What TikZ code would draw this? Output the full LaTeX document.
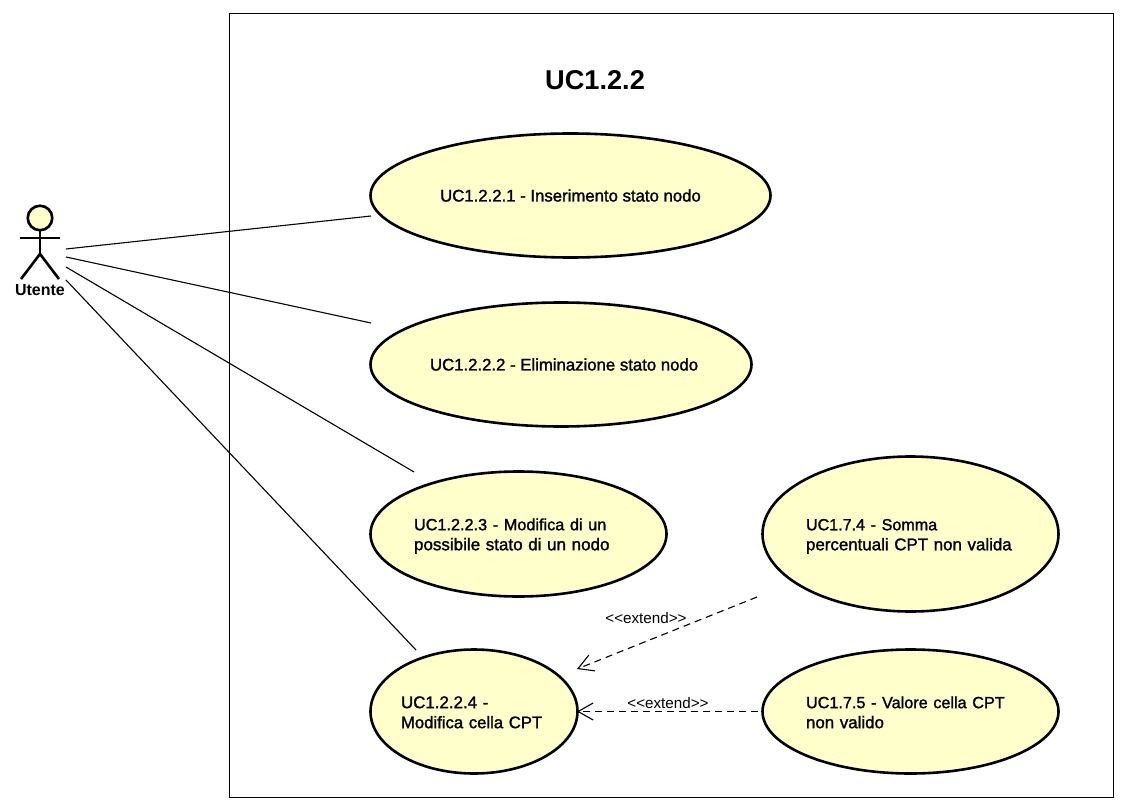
\documentclass[tikz,border=0pt]{standalone}
\usepackage{fontspec}
\setmainfont{Liberation Sans}
\newfontfamily\ucfont[FakeBold=1.5]{Liberation Sans}
\usetikzlibrary{shapes.geometric,arrows.meta}
\definecolor{ucfill}{HTML}{FFFFCC}
\newcommand\toppad[1]{\rule{0pt}{#1}}
\newcommand\ucsize[2]{{\fontsize{#1}{20}\selectfont #2}}
\tikzset{
  x=1pt,y=-1pt,
  usecase/.style={ellipse,draw=black,line width=2.6pt,fill=ucfill,inner sep=0pt,outer sep=0pt,align=left,font=\fontsize{16.9}{20}\ucfont},
  assoc/.style={draw=black,line width=1.1pt},
  extendline/.style={draw=black,line width=1.1pt,dash pattern=on 7pt off 5pt,-{Straight Barb[length=15pt,width=17pt,line width=1.1pt]}},
  stereo/.style={font=\fontsize{15.2}{15}\selectfont,inner sep=0pt},
  actorline/.style={draw=black,line width=2.6pt},
}
\begin{document}
\begin{tikzpicture}
\useasboundingbox (0,0) rectangle (1126,810);
\fill[white] (0,0) rectangle (1126,810);
\node[draw=black,line width=1pt,minimum width=884pt,minimum height=784pt,inner sep=0pt,outer sep=0pt] (sys) at (671,405.5) {};
\node[font=\fontsize{27.2}{27}\selectfont\bfseries,inner sep=0pt] (title) at (595,80) {UC1.2.2};

\node[usecase,minimum width=400pt,minimum height=124pt] (e1) at (570.5,195.5) {\ucsize{16.75}{UC1.2.2.1 - Inserimento stato nodo}};
\node[usecase,minimum width=381pt,minimum height=124pt] (e2) at (561,364.5) {\makebox[262pt][l]{\ucsize{16.75}{UC1.2.2.2 - Eliminazione stato nodo}}};
\node[usecase,minimum width=296pt,minimum height=125pt,text width=209pt] (e3) at (518.5,534) {\toppad{16pt}\ucsize{16.25}{UC1.2.2.3 - Modifica di un}\\\ucsize{17}{possibile stato di un nodo}};
\node[usecase,minimum width=207pt,minimum height=124pt,text width=146pt] (e4) at (474,711.5) {\toppad{13.5pt}UC1.2.2.4 -\\\ucsize{16.7}{Modifica cella CPT}};
\node[usecase,minimum width=296pt,minimum height=155pt,text width=209pt] (e5) at (910.5,534) {\toppad{16pt}\ucsize{16.1}{UC1.7.4 - Somma}\\percentuali CPT non valida};
\node[usecase,minimum width=296pt,minimum height=124pt,text width=209pt] (e6) at (910.5,711.5) {\toppad{13.5pt}\ucsize{16.2}{UC1.7.5 - Valore cella CPT}\\non valido};

% actor
\node[circle,draw=black,line width=2.6pt,fill=ucfill,minimum size=24.5pt,inner sep=0pt,outer sep=0pt] (head) at (40,218) {};
\coordinate (hip) at (40,254);
\coordinate (armL) at (20,238);
\coordinate (armR) at (60,238);
\coordinate (legL) at (21,279);
\coordinate (legR) at (59,279);
\draw[actorline] (head.south) -- (hip);
\draw[actorline] (armL) -- (armR);
\draw[actorline] (legL) -- (hip) -- (legR);
\node[font=\fontsize{16}{16}\selectfont\bfseries,inner sep=0pt] (actorlabel) at (40,290) {Utente};

% associations
\coordinate (a1) at (66,249);
\coordinate (a2) at (66,257);
\coordinate (a3) at (66,267);
\coordinate (a4) at (66,280);
\coordinate (t1) at (371,216);
\coordinate (t2) at (371,323);
\coordinate (t3) at (414,472);
\coordinate (t4) at (416,650);
\draw[assoc] (a1) -- (t1);
\draw[assoc] (a2) -- (t2);
\draw[assoc] (a3) -- (t3);
\draw[assoc] (a4) -- (t4);

% extends
\coordinate (x1s) at (757,597);
\coordinate (x1t) at (577,669);
\coordinate (x2s) at (758,711.5);
\coordinate (x2t) at (577,711.5);
\draw[extendline] (x1s) -- (x1t);
\draw[extendline] (x2s) -- (x2t);
\node[stereo] (l1) at (646,618) {<{}<extend>{}>};
\node[stereo] (l2) at (668,703) {<{}<extend>{}>};
\end{tikzpicture}
\end{document}
